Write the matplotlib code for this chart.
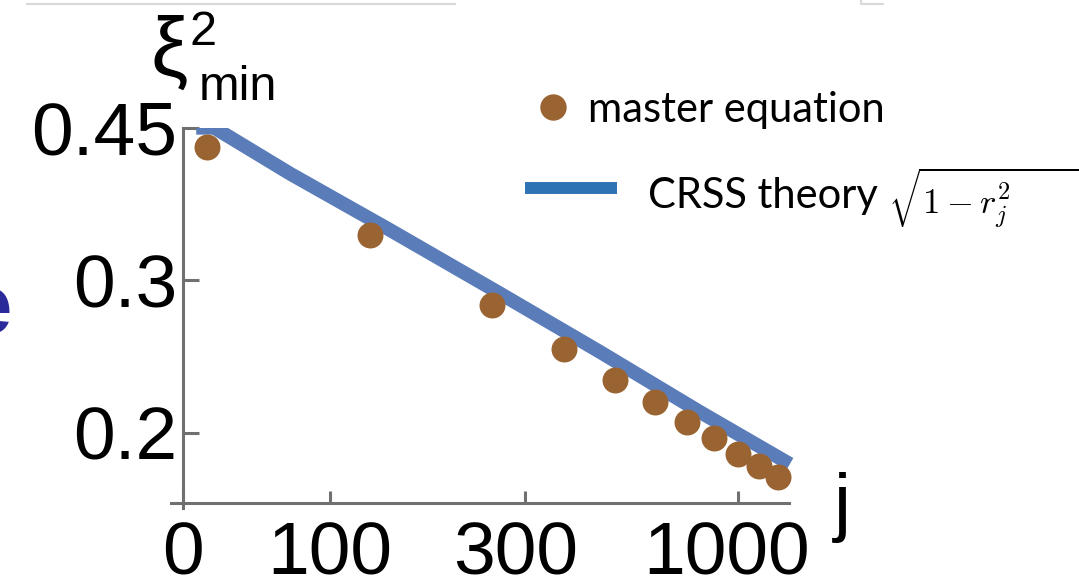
import matplotlib
matplotlib.use("Agg")
import matplotlib.pyplot as plt
from matplotlib.lines import Line2D
from matplotlib.transforms import ScaledTranslation

plt.rcParams['font.family'] = ['Liberation Sans', 'DejaVu Sans']

# master equation results
j_me = [50, 125, 250, 375, 500, 625, 750, 875, 1000, 1125, 1250]
xi_me = [0.428, 0.338, 0.281, 0.250, 0.230, 0.217, 0.206, 0.197, 0.189, 0.183, 0.178]

# CRSS theory curve
j_crss = [47, 52, 80, 140, 261, 459, 807, 1340]
xi_crss = [0.45, 0.45, 0.398, 0.343, 0.2896, 0.2479, 0.2113, 0.184]

xticks = [43.6, 100, 300, 1000]
xticklabels = ['0', '100', '300', '1000']
yticks = [0.2, 0.3, 0.45]
yticklabels = ['0.2', '0.3', '0.45']

W, H = 1079, 586
fig = plt.figure(figsize=(W / 100, H / 100), dpi=100)

def fx(px):
    return px / W

def fy(py):
    return 1 - py / H

ax = fig.add_axes([fx(171), fy(508), fx(800) - fx(171), (508 - 127.7) / H])
ax.set_xscale('log')
ax.set_yscale('log')
ax.set_xlim(40.76, 1419)
ax.set_ylim(0.1637, 0.45)

axis_gray = '#707070'
ax.plot(j_crss, xi_crss, color='#5A7DB9', lw=10, solid_capstyle='butt', zorder=2)
ax.plot(j_me, xi_me, 'o', color='#9A6332', ms=18.7, mec='none', zorder=3)

for s in ['top', 'right']:
    ax.spines[s].set_visible(False)
ax.spines['bottom'].set_position(('data', 0.166))
ax.spines['bottom'].set_bounds(40.76, 1334)
ax.spines['left'].set_position(('data', 43.6))
ax.spines['left'].set_bounds(0.1637, 0.45)
for s in ['bottom', 'left']:
    ax.spines[s].set_color(axis_gray)
    ax.spines[s].set_linewidth(2.2)

ax.xaxis.set_minor_locator(matplotlib.ticker.NullLocator())
ax.yaxis.set_minor_locator(matplotlib.ticker.NullLocator())
ax.set_xticks(xticks)
ax.set_xticklabels(xticklabels)
ax.set_yticks(yticks)
ax.set_yticklabels(yticklabels)
ax.tick_params(axis='x', direction='in', length=8.6, width=2.2, color=axis_gray,
               pad=12.5, labelsize=54)
ax.tick_params(axis='y', direction='in', length=11.5, width=2.2, color=axis_gray,
               pad=4, labelsize=54)
ax.patch.set_visible(False)

# nudge the last two x labels left a little
for lab, dx in zip(ax.get_xticklabels(), [0, 0, -9, -11]):
    lab.set_transform(lab.get_transform() + ScaledTranslation(dx / 100, 0, fig.dpi_scale_trans))

# axis labels
fig.text(fx(151), fy(76), 'ξ', fontsize=60, va='baseline', ha='left')
fig.text(fx(189), fy(45), '2', fontsize=35, va='baseline', ha='left')
fig.text(fx(199), fy(100), 'min', fontsize=35, va='baseline', ha='left')
fig.text(fx(842), fy(527), 'j', fontsize=55, va='baseline', ha='center')

# legend
fig.add_artist(Line2D([fx(553)], [fy(107)], marker='o', ms=19, color='#9A6332',
                      mec='none', transform=fig.transFigure))
fig.text(fx(588), fy(122), 'master equation', fontsize=30, family=['Lato', 'DejaVu Sans'],
         va='baseline', ha='left')
fig.add_artist(Line2D([fx(525), fx(617)], [fy(188), fy(188)], lw=8.6, color='#2E74B5',
                      solid_capstyle='butt', transform=fig.transFigure))
fig.text(fx(648), fy(208), 'CRSS theory', fontsize=30, family=['Lato', 'DejaVu Sans'],
         va='baseline', ha='left')
fig.text(fx(888), fy(214), r'$\sqrt{1-r_j^2\qquad\qquad}$', fontsize=25,
         math_fontfamily='cm', va='baseline', ha='left')

# slide fragments at the edges
fig.text(fx(12), fy(333), 'e', fontsize=60, fontweight='bold', color='#2A2A9A',
         va='baseline', ha='right')
fig.add_artist(Line2D([fx(27), fx(455)], [fy(4), fy(4)], lw=1.5, color='#D9D9D9',
                      transform=fig.transFigure))
fig.add_artist(Line2D([fx(861), fx(861), fx(883)], [fy(0), fy(4), fy(4)], lw=1.5,
                      color='#D9D9D9', transform=fig.transFigure))

fig.savefig('out.png', dpi=100)
